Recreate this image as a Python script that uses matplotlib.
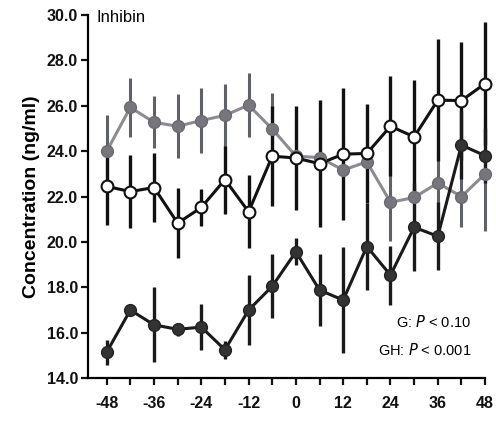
import numpy as np
import matplotlib.pyplot as plt
from matplotlib import font_manager

# horas relativas
hours = [-48, -42, -36, -30, -24, -18, -12, -6, 0, 6, 12, 18, 24, 30, 36, 42, 48]

# serie preta (marcadores cheios escuros)
black_mean = [15.15, 17.0, 16.35, 16.15, 16.25, 15.25, 17.0, 18.05, 19.57, 17.88, 17.44, 19.8,
              18.54, 20.65, 20.25, 24.27, 23.8]
black_err = [0.55, 0.2, 1.65, 0.3, 1.0, 0.4, 1.55, 1.4, 0.6, 1.6, 2.35, 1.9,
             1.3, 1.95, 1.5, 1.5, 1.2]

# serie cinza
grey_mean = [24.0, 25.93, 25.27, 25.1, 25.35, 25.58, 26.03, 24.98, 23.78, 23.72, 23.17, 23.53,
             21.75, 21.96, 22.6, 22.0, 23.0]
grey_err = [1.6, 1.3, 1.15, 1.4, 1.45, 1.4, 1.42, 1.6, 1.5, 1.5, 1.5, 1.5,
            1.7, 1.75, 1.5, 1.35, 2.5]

# serie branca (marcadores abertos)
white_mean = [22.45, 22.22, 22.4, 20.83, 21.52, 22.75, 21.33, 23.78, 23.7, 23.45, 23.87, 23.9,
              25.1, 24.63, 26.25, 26.23, 26.98]
white_err = [1.7, 1.6, 1.5, 1.55, 0.8, 1.5, 1.6, 2.2, 2.3, 2.8, 2.9, 2.2,
             2.2, 2.5, 2.7, 2.6, 2.7]

yticks = [14, 16, 18, 20, 22, 24, 26, 28, 30]
xticks = [-48, -36, -24, -12, 0, 12, 24, 36, 48]

names = {f.name for f in font_manager.fontManager.ttflist}
tick_font = 'Liberation Sans Narrow' if 'Liberation Sans Narrow' in names else 'Liberation Sans'
plt.rcParams['font.family'] = ['Liberation Sans', 'DejaVu Sans']

fig = plt.figure(figsize=(4.96, 4.23), dpi=100)
ax = fig.add_axes([0.177, 0.106, 0.801, 0.8585])

x = np.array(hours)

ax.errorbar(x, grey_mean, yerr=grey_err, fmt='none', ecolor='#5e6166', elinewidth=2.2,
            capsize=0, zorder=2, clip_on=False)
ax.plot(x, grey_mean, '-', color='#8c8c90', lw=2.2, zorder=3, clip_on=False)
ax.plot(x, grey_mean, 'o', color='#76767c', ms=8.5, mec='#6a6a70', mew=1, zorder=4,
        clip_on=False)

ax.errorbar(x, white_mean, yerr=white_err, fmt='none', ecolor='#111111', elinewidth=2.4,
            capsize=0, zorder=2, clip_on=False)
ax.plot(x, white_mean, '-', color='#111111', lw=2.2, zorder=3, clip_on=False)
ax.plot(x, white_mean, 'o', mfc='white', mec='#111111', ms=8.5, mew=1.5, zorder=5,
        clip_on=False)

ax.errorbar(x, black_mean, yerr=black_err, fmt='none', ecolor='#1a1a1a', elinewidth=2.4,
            capsize=0, zorder=2, clip_on=False)
ax.plot(x, black_mean, '-', color='#1a1a1a', lw=2.2, zorder=3, clip_on=False)
ax.plot(x, black_mean, 'o', color='#333333', mec='#222222', ms=8.5, mew=1, zorder=6,
        clip_on=False)

ax.set_xlim(-52.8, 48)
ax.set_ylim(14, 30)
ax.set_xticks(range(-48, 49, 6), minor=False)
ax.set_xticklabels([str(t) if t in xticks else '' for t in range(-48, 49, 6)])
ax.set_yticks(yticks)
ax.set_yticklabels(['%.1f' % t for t in yticks])

for lab in ax.get_xticklabels() + ax.get_yticklabels():
    lab.set_fontfamily(tick_font)
    lab.set_fontweight('bold')
    lab.set_fontsize(11.5)

ax.spines['top'].set_visible(False)
ax.spines['right'].set_visible(False)
ax.spines['left'].set_linewidth(1.6)
ax.spines['bottom'].set_linewidth(1.6)
ax.tick_params(axis='both', direction='out', length=5, width=1.6, colors='#111111')
ax.tick_params(axis='x', pad=8)
ax.tick_params(axis='y', pad=2)

ax.set_ylabel('Concentration (ng/ml)', fontsize=14, fontweight='bold', labelpad=5)

ax.text(0.023, 0.992, 'Inhibin', transform=ax.transAxes, fontsize=12, va='center', ha='left')
ax.text(0.965, 0.154, 'G: $\\it{P}$ < 0.10', transform=ax.transAxes, fontsize=10.5,
        fontfamily=tick_font, ha='right', va='center')
ax.text(0.965, 0.077, 'GH: $\\it{P}$ < 0.001', transform=ax.transAxes, fontsize=10.5,
        fontfamily=tick_font, ha='right', va='center')

fig.savefig('out.png', dpi=100)
